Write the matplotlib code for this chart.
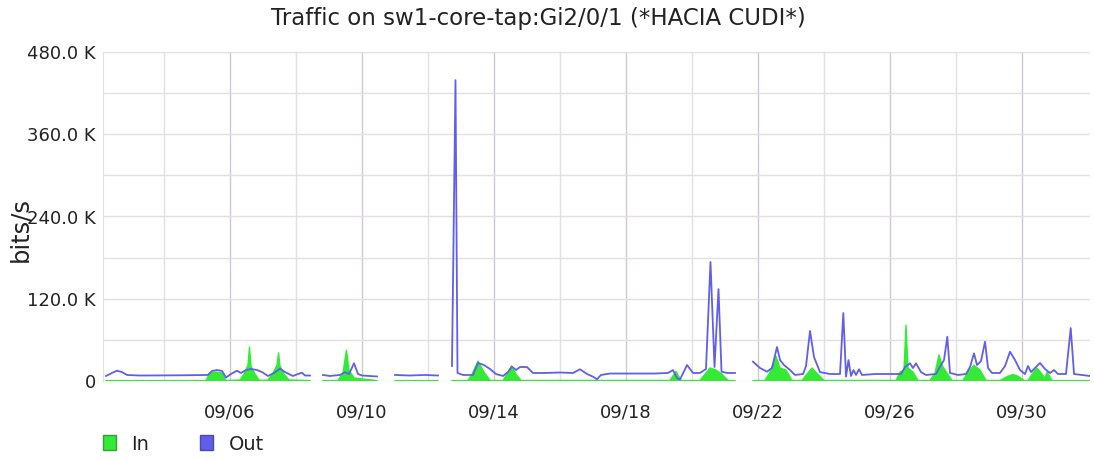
import numpy as np
import matplotlib
matplotlib.use("Agg")
import matplotlib.pyplot as plt
from matplotlib.patches import Patch

# ---------------- data ----------------
# time axis: days since 09/01 00:00 (day 5.0 == 09/06 00:00); nan = gap in data
NAN = float("nan")

out_days = [
    1.242, 1.424, 1.576, 1.727, 1.879, 2.27, 3.485, 4.333, 4.455, 4.606, 4.758, 4.879,
    5.03, 5.212, 5.333, 5.485, 5.636, 5.818, 5.97, 6.152, 6.333, 6.515, 6.667, 6.909,
    7.06, 7.182, 7.273, 7.424, 7.6,
    7.818, 8.03, 8.333, 8.485, 8.606, 8.758, 8.879, 9.0, 9.242, 9.455, 9.7,
    10.0, 10.455, 10.909, 11.303, 11.5,
    11.727, 11.833, 11.894, 12.06, 12.364, 12.515, 12.697, 12.879, 13.06, 13.273, 13.424,
    13.545, 13.667, 13.788, 14.0, 14.18, 14.545, 15.0, 15.394, 15.606, 15.818, 16.0,
    16.121, 16.242, 16.515, 16.97, 17.424, 17.879, 18.273, 18.424, 18.545, 18.636,
    18.848, 19.03, 19.242, 19.424, 19.56, 19.682, 19.803, 19.894, 20.06, 20.303, 20.5,
    20.848, 21.06, 21.273, 21.424, 21.576, 21.667, 21.788, 21.97, 22.121, 22.364, 22.455,
    22.576, 22.697, 22.879, 23.182, 23.485, 23.585, 23.667, 23.742, 23.818, 23.894,
    23.97, 24.06, 24.152, 24.545, 25.0, 25.333, 25.455, 25.606, 25.697, 25.788, 25.939,
    26.09, 26.394, 26.515, 26.636, 26.736, 26.818, 27.06, 27.303, 27.424, 27.545, 27.636,
    27.758, 27.879, 27.97, 28.09, 28.333, 28.485, 28.636, 28.788, 28.939, 29.09, 29.182,
    29.273, 29.424, 29.545, 29.697, 29.848, 29.97, 30.09, 30.333, 30.476, 30.576, 30.818,
    31.06,
]
out_kbps = [
    7.3, 11.7, 15.0, 13.0, 8.8, 8.0, 8.3, 8.8, 14.6, 16.0, 14.6, 5.1,
    10.2, 15.0, 11.7, 16.0, 17.5, 16.0, 13.0, 7.3, 11.7, 18.2, 13.0, 7.3,
    10.2, 12.0, 8.0, 8.0, NAN,
    8.8, 7.3, 8.8, 13.0, 10.2, 25.8, 10.2, 8.0, 7.3, 6.6, NAN,
    8.8, 8.0, 8.8, 8.0, NAN,
    21.9, 439.0, 11.7, 8.8, 8.8, 26.3, 23.3, 17.5, 10.2, 7.3, 13.0,
    20.9, 16.0, 20.4, 20.4, 11.7, 11.7, 12.4, 11.7, 17.1, 10.2, 6.3,
    2.5, 8.8, 10.9, 10.9, 10.9, 10.9, 11.7, 16.0, 4.4, 2.2,
    23.3, 11.7, 11.7, 17.5, 173.6, 20.4, 134.0, 13.6, 11.7, 11.7, NAN,
    28.2, 19.0, 13.6, 19.0, 49.6, 30.6, 23.3, 16.0, 8.8, 10.2, 21.9,
    73.0, 35.0, 13.0, 10.2, 10.2, 99.2, 6.3, 30.6, 7.3, 16.0,
    8.8, 17.1, 8.8, 10.2, 10.2, 10.2, 20.4, 25.8, 19.0, 25.8, 13.0,
    8.8, 10.2, 20.9, 30.6, 64.6, 11.7, 8.8, 10.2, 20.4, 40.4, 23.3,
    29.2, 57.3, 19.0, 11.7, 11.7, 21.9, 42.7, 30.6, 16.0, 10.2, 21.9,
    13.0, 20.4, 26.3, 17.5, 11.7, 16.0, 10.2, 10.2, 77.3, 10.2, 8.8,
    7.3,
]

in_days = [
    1.242, 4.273, 4.394, 4.576, 4.758, 4.879, 5.303, 5.424, 5.545, 5.591, 5.636, 5.758,
    5.879, 6.0, 6.152, 6.303, 6.424, 6.47, 6.515, 6.636, 6.788, 7.424, 7.6,
    7.818, 8.273, 8.424, 8.53, 8.606, 8.758, 9.455, 9.7,
    10.0, 11.303, 11.5,
    11.727, 12.212, 12.333, 12.515, 12.697, 12.879, 13.273, 13.394, 13.53, 13.667, 13.818,
    18.333, 18.515, 18.667, 19.242, 19.394, 19.545, 19.727, 19.909, 20.091, 20.303, 20.5,
    20.848, 21.212, 21.364, 21.545, 21.667, 21.848, 22.03, 22.333, 22.485, 22.636, 22.788,
    23.0, 25.182, 25.303, 25.424, 25.485, 25.545, 25.697, 25.848, 26.212, 26.364, 26.485,
    26.576, 26.727, 26.879, 27.212, 27.364, 27.545, 27.727, 27.909, 28.333, 28.576,
    28.727, 28.879, 29.061, 29.182, 29.333, 29.455, 29.606, 29.697, 29.758, 29.909,
    30.061, 31.06,
]
in_kbps = [
    0.6, 0.6, 11.7, 13.0, 11.7, 0.7, 1.5, 10.0, 23.0, 49.6, 22.0, 10.0,
    1.5, 1.0, 1.5, 11.7, 23.0, 41.0, 22.0, 10.0, 1.5, 0.6, NAN,
    0.6, 0.8, 11.7, 45.0, 16.0, 4.4, 0.6, NAN,
    0.6, 0.6, NAN,
    0.6, 0.8, 10.0, 29.0, 13.0, 0.8, 0.8, 10.0, 22.0, 10.0, 0.8,
    0.8, 14.0, 0.8, 0.8, 10.0, 19.0, 16.0, 10.0, 0.8, 0.6, NAN,
    0.6, 0.8, 13.0, 36.0, 19.0, 16.0, 0.8, 0.8, 10.0, 19.0, 11.0,
    0.8, 0.8, 13.0, 16.0, 81.7, 19.0, 13.0, 0.8, 0.8, 11.7, 38.0,
    23.0, 11.7, 0.8, 0.8, 13.0, 23.0, 16.0, 0.8, 0.8, 7.0,
    9.5, 7.0, 0.8, 0.8, 11.7, 19.0, 10.0, 4.0, 13.0, 0.8,
    0.6, 0.6,
]

x_tick_days = [5, 9, 13, 17, 21, 25, 29]
x_tick_labels = ["09/06", "09/10", "09/14", "09/18", "09/22", "09/26", "09/30"]
x_minor_days = [3, 7, 11, 15, 19, 23, 27]
y_ticks = [0, 120000, 240000, 360000, 480000]
y_tick_labels = ["0", "120.0 K", "240.0 K", "360.0 K", "480.0 K"]
y_minor = [60000, 180000, 300000, 420000]

title = "Traffic on sw1-core-tap:Gi2/0/1 (*HACIA CUDI*)"
series_names = ["In", "Out"]

# ---------------- style ----------------
GREEN = "#35ea35"
BLUE = "#5f5fec"
GRID_MINOR = "#e4dfe4"
GRID_MAJOR = "#cfc8d2"
TEXT = "#222222"

W, H = 1094, 461
fig = plt.figure(figsize=(W / 100, H / 100), dpi=100)
fig.patch.set_facecolor("white")

left, right, top, bottom = 103, 1090, 52, 381
ax = fig.add_axes([left / W, 1 - bottom / H, (right - left) / W, (bottom - top) / H])

od = np.array(out_days)
ov = np.array(out_kbps) * 1000.0
idays = np.array(in_days)
iv = np.array(in_kbps) * 1000.0

ax.fill_between(idays, 0, iv, color=GREEN, lw=0, zorder=2)
ax.plot(idays, iv, color=GREEN, lw=1.0, zorder=2)
ax.plot(od, ov, color=BLUE, lw=1.3, zorder=3)

ax.set_xlim(1.152, 31.06)
ax.set_ylim(0, 480000)

ax.set_xticks(x_tick_days)
ax.set_xticklabels(x_tick_labels)
ax.set_xticks(x_minor_days, minor=True)
ax.set_yticks(y_ticks)
ax.set_yticklabels(y_tick_labels)
ax.set_yticks(y_minor, minor=True)

ax.grid(True, which="major", axis="x", color=GRID_MAJOR, lw=1.0, zorder=0)
ax.grid(True, which="minor", axis="x", color=GRID_MINOR, lw=1.0, zorder=0)
ax.grid(True, which="both", axis="y", color=GRID_MINOR, lw=1.0, zorder=0)
ax.set_axisbelow(True)

ax.tick_params(axis="both", which="both", length=0)
ax.tick_params(axis="x", which="major", pad=16, labelsize=13, labelcolor=TEXT)
ax.tick_params(axis="y", which="major", pad=5, labelsize=13, labelcolor=TEXT)
for s in ["top", "right", "bottom"]:
    ax.spines[s].set_visible(False)
ax.spines["left"].set_color(GRID_MINOR)

ax.set_ylabel("bits/s", fontsize=17.5, color=TEXT)
ax.yaxis.set_label_coords((32 - left) / (right - left), (bottom - 230) / (bottom - top))

fig.text(538 / W, 1 - 18 / H, title, ha="center", va="center", fontsize=16.5, color=TEXT)

handles = [Patch(facecolor=GREEN, edgecolor="#3a9a3a", lw=1.0),
           Patch(facecolor=BLUE, edgecolor="#4a4aa8", lw=1.0)]
fig.legend(handles, series_names, loc="center left", bbox_to_anchor=(103 / W, 1 - 444 / H),
           ncol=2, frameon=False, fontsize=14, handlelength=0.67, handleheight=0.8,
           handletextpad=0.8, columnspacing=2.6, borderpad=0, borderaxespad=0,
           labelcolor=TEXT)

fig.savefig("out.png", dpi=100)
